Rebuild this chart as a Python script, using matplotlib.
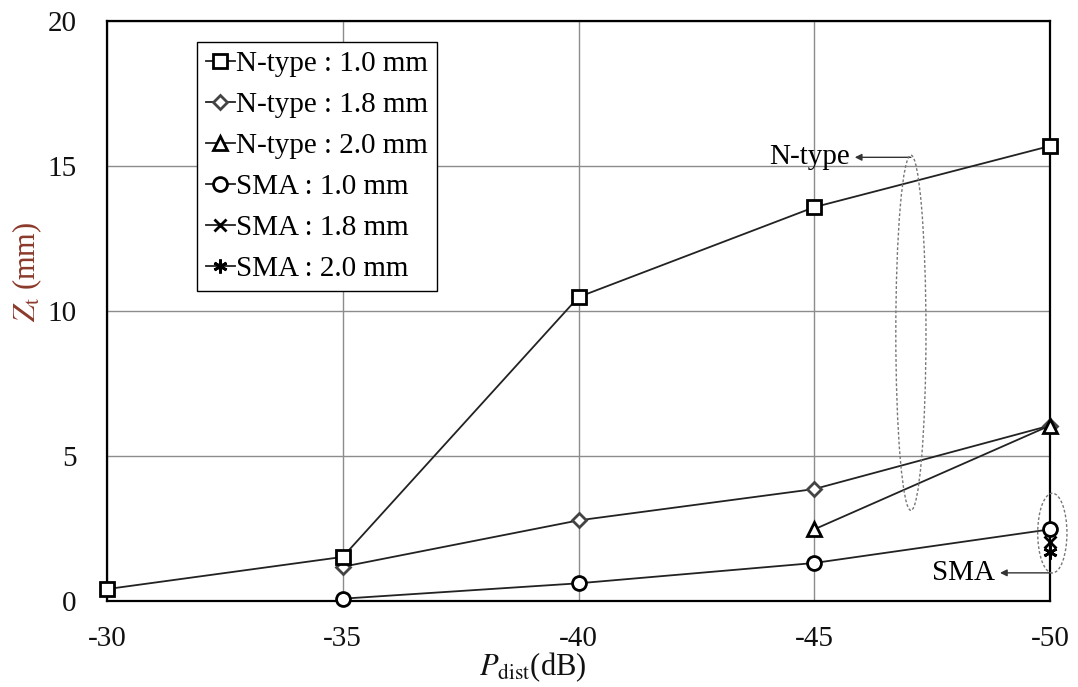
import matplotlib

matplotlib.use("Agg")
import matplotlib.pyplot as plt
from matplotlib.patches import Ellipse

plt.rcParams["font.family"] = ["Liberation Serif", "DejaVu Serif"]
plt.rcParams["mathtext.fontset"] = "stix"
plt.rcParams["axes.unicode_minus"] = False

# Z_t (mm) versus disturbance power P_dist (dB)
p_ntype_10 = [-30, -35, -40, -45, -50]
z_ntype_10 = [0.41, 1.52, 10.48, 13.58, 15.69]
p_ntype_18 = [-35, -40, -45, -50]
z_ntype_18 = [1.18, 2.78, 3.86, 6.05]
p_ntype_20 = [-45, -50]
z_ntype_20 = [2.47, 6.05]
p_sma_10 = [-35, -40, -45, -50]
z_sma_10 = [0.08, 0.61, 1.31, 2.47]
p_sma_18 = [-50]
z_sma_18 = [2.03]
p_sma_20 = [-50]
z_sma_20 = [1.68]

x_ticks = [-30, -35, -40, -45, -50]
y_ticks = [0, 5, 10, 15, 20]

fig = plt.figure(figsize=(10.78, 6.87), dpi=100)
ax = fig.add_axes([0.0993, 0.1252, 0.8747, 0.8442])

line_kw = dict(color="#222222", linewidth=1.3, markerfacecolor="white",
               markeredgecolor="black", markeredgewidth=2.0, clip_on=False)
ax.plot(p_ntype_10, z_ntype_10, marker="s", markersize=10,
        label="N-type : 1.0 mm", zorder=4, **line_kw)
ax.plot(p_ntype_18, z_ntype_18, marker="D", markersize=7.5,
        label="N-type : 1.8 mm", zorder=3,
        **{**line_kw, "markeredgecolor": "#444444"})
ax.plot(p_ntype_20, z_ntype_20, marker="^", markersize=10,
        label="N-type : 2.0 mm", zorder=4, **line_kw)
ax.plot(p_sma_10, z_sma_10, marker="o", markersize=10,
        label="SMA : 1.0 mm", zorder=4, **line_kw)
ax.plot(p_sma_18, z_sma_18, marker="x", markersize=9,
        label="SMA : 1.8 mm", zorder=4, **line_kw)
ax.plot(p_sma_20, z_sma_20, marker=(6, 2, 0), markersize=10,
        label="SMA : 2.0 mm", zorder=4, **line_kw)

ax.set_xlim(-30, -50)
ax.set_ylim(0, 20)
ax.set_xticks(x_ticks)
ax.set_yticks(y_ticks)
ax.tick_params(length=0, labelsize=21, colors="#111111")
ax.tick_params(axis="x", pad=18)
ax.tick_params(axis="y", pad=22)
ax.grid(True, color="#8c8c8c", linewidth=1.0)
ax.set_axisbelow(True)
for s in ax.spines.values():
    s.set_linewidth(1.6)
    s.set_color("black")

ax.set_xlabel(r"$P_{\rm dist}$(dB)", fontsize=22, color="#111111")
ax.xaxis.set_label_coords(0.451, -0.085)
ax.set_ylabel(r"$Z_{\rm t}$ (mm)", fontsize=22, color="#8b3a2a")
ax.yaxis.set_label_coords(-0.067, 0.567)

leg = ax.legend(loc="upper left", bbox_to_anchor=(0.0954, 0.964),
                fontsize=21, handlelength=1.0, handletextpad=0.05,
                labelspacing=0.5, borderpad=0.3, borderaxespad=0,
                fancybox=False, framealpha=1, edgecolor="black")
leg.get_frame().set_linewidth(1.0)

# group outlines for the two connector families
ax.add_patch(Ellipse((-47.05, 9.25), 0.64, 12.25, fill=False, linestyle=(0, (2, 1.5)),
                     edgecolor="#777777", linewidth=1.0, clip_on=False, zorder=5))
ax.add_patch(Ellipse((-50.05, 2.34), 0.62, 2.75, fill=False, linestyle=(0, (2, 1.5)),
                     edgecolor="#777777", linewidth=1.0, clip_on=False, zorder=5))

arrow = dict(arrowstyle="-|>", color="#333333", linewidth=1.0, mutation_scale=10,
             shrinkA=0, shrinkB=0)
ax.text(-45.76, 15.3, "N-type", ha="right", va="center", fontsize=21)
ax.annotate("", xy=(-45.86, 15.3), xytext=(-47.05, 15.3), arrowprops=arrow,
            annotation_clip=False)
ax.text(-48.83, 0.97, "SMA", ha="right", va="center", fontsize=21)
ax.annotate("", xy=(-48.94, 0.97), xytext=(-50.02, 0.97), arrowprops=arrow,
            annotation_clip=False)

fig.savefig("out.png", dpi=100)
